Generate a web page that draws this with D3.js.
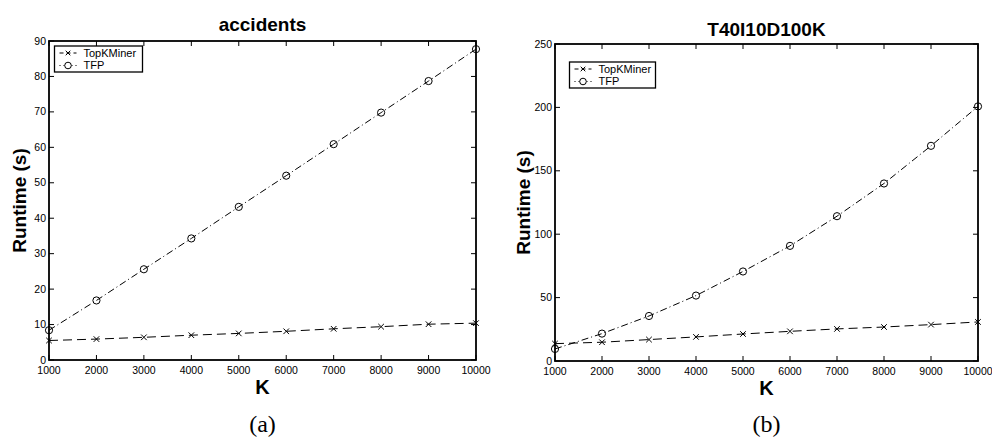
<!DOCTYPE html>
<html>
<head>
<meta charset="utf-8">
<script src="https://cdn.jsdelivr.net/npm/d3@7"></script>
<style>
  body { margin: 0; background: #fff; }
  svg { display: block; }
  text { font-family: "Liberation Sans", Arial, sans-serif; }
</style>
</head>
<body>
<div id="chart"></div>
<script>
// K values shared by both panels
const kValues = [1000, 2000, 3000, 4000, 5000, 6000, 7000, 8000, 9000, 10000];

// (a) accidents
const accTopK = [5.5, 5.9, 6.4, 7.0, 7.5, 8.1, 8.8, 9.4, 10.1, 10.4];
const accTFP = [8.4, 16.8, 25.6, 34.3, 43.2, 52.0, 60.9, 69.8, 78.7, 87.7];
const accYTicks = [0, 10, 20, 30, 40, 50, 60, 70, 80, 90];

// (b) T40I10D100K
const tTopK = [13.7, 14.8, 16.9, 19.0, 21.3, 23.4, 25.3, 26.8, 28.7, 30.8];
const tTFP = [9.5, 21.6, 35.5, 51.6, 70.6, 90.8, 114.2, 140.0, 169.7, 200.8];
const tYTicks = [0, 50, 100, 150, 200, 250];

const seriesNames = ["TopKMiner", "TFP"];

const width = 992, height = 437;
const svg = d3.select("#chart").append("svg")
  .attr("width", width)
  .attr("height", height);

function drawPanel(opt) {
  const x = d3.scaleLinear().domain([1000, 10000]).range([opt.left, opt.right]);
  const y = d3.scaleLinear().domain([0, opt.yMax]).range([opt.bottom, opt.top]);
  const g = svg.append("g");
  const tick = 5;

  // box
  g.append("rect")
    .attr("x", opt.left).attr("y", opt.top)
    .attr("width", opt.right - opt.left).attr("height", opt.bottom - opt.top)
    .attr("fill", "none").attr("stroke", "#000").attr("stroke-width", 1.8);

  // inward ticks on all four sides
  kValues.forEach(k => {
    g.append("line").attr("x1", x(k)).attr("x2", x(k))
      .attr("y1", opt.bottom).attr("y2", opt.bottom - tick)
      .attr("stroke", "#000");
    g.append("line").attr("x1", x(k)).attr("x2", x(k))
      .attr("y1", opt.top).attr("y2", opt.top + tick)
      .attr("stroke", "#000");
    g.append("text").attr("x", x(k)).attr("y", opt.bottom + 14)
      .attr("text-anchor", "middle").attr("font-size", "10.5px")
      .text(k);
  });
  opt.yTicks.forEach(v => {
    g.append("line").attr("x1", opt.left).attr("x2", opt.left + tick)
      .attr("y1", y(v)).attr("y2", y(v)).attr("stroke", "#000");
    g.append("line").attr("x1", opt.right).attr("x2", opt.right - tick)
      .attr("y1", y(v)).attr("y2", y(v)).attr("stroke", "#000");
    g.append("text").attr("x", opt.left - 3).attr("y", y(v) + 3.5)
      .attr("text-anchor", "end").attr("font-size", "10.5px")
      .text(v);
  });

  const line = d3.line().x((d, i) => x(kValues[i])).y(d => y(d));

  // TopKMiner: dashed with x markers
  g.append("path").datum(opt.topk).attr("d", line)
    .attr("fill", "none").attr("stroke", "#000").attr("stroke-width", 1)
    .attr("stroke-dasharray", "9,5");
  opt.topk.forEach((v, i) => {
    const cx = x(kValues[i]), cy = y(v), s = 2.8;
    g.append("path")
      .attr("d", `M${cx - s},${cy - s}L${cx + s},${cy + s}M${cx - s},${cy + s}L${cx + s},${cy - s}`)
      .attr("stroke", "#000").attr("stroke-width", 1);
  });

  // TFP: dash-dot with circle markers
  g.append("path").datum(opt.tfp).attr("d", line)
    .attr("fill", "none").attr("stroke", "#000").attr("stroke-width", 1)
    .attr("stroke-dasharray", "7,3,1,3");
  opt.tfp.forEach((v, i) => {
    g.append("circle").attr("cx", x(kValues[i])).attr("cy", y(v)).attr("r", 3.6)
      .attr("fill", "none").attr("stroke", "#000").attr("stroke-width", 1);
  });

  // title and axis labels
  const cx = (opt.left + opt.right) / 2;
  g.append("text").attr("x", cx).attr("y", opt.titleY)
    .attr("text-anchor", "middle").attr("font-size", "19px").attr("font-weight", "bold")
    .text(opt.title);
  g.append("text").attr("x", cx).attr("y", opt.bottom + 34)
    .attr("text-anchor", "middle").attr("font-size", "20px").attr("font-weight", "bold")
    .text("K");
  g.append("text")
    .attr("transform", `translate(${opt.yLabelX},${(opt.top + opt.bottom) / 2}) rotate(-90)`)
    .attr("text-anchor", "middle").attr("font-size", "19px").attr("font-weight", "bold")
    .text("Runtime (s)");
  g.append("text").attr("x", cx).attr("y", 432)
    .attr("text-anchor", "middle").attr("font-size", "24px")
    .style("font-family", "'Liberation Serif', 'DejaVu Serif', serif")
    .text(opt.caption);

  // legend
  const lg = g.append("g").attr("transform", `translate(${opt.legX},${opt.legY})`);
  lg.append("rect").attr("width", opt.legW).attr("height", 26)
    .attr("fill", "#fff").attr("stroke", "#000").attr("stroke-width", 1.3);
  seriesNames.forEach((name, i) => {
    const ly = 7 + i * 12.5;
    lg.append("line").attr("x1", 5).attr("x2", 22).attr("y1", ly).attr("y2", ly)
      .attr("stroke", "#000").attr("stroke-width", 1)
      .attr("stroke-dasharray", i === 0 ? "4,3" : "1,3");
    if (i === 0) {
      const s = 2.3, mx = 13.5;
      lg.append("path")
        .attr("d", `M${mx - s},${ly - s}L${mx + s},${ly + s}M${mx - s},${ly + s}L${mx + s},${ly - s}`)
        .attr("stroke", "#000");
    } else {
      lg.append("circle").attr("cx", 13.5).attr("cy", ly).attr("r", 3.3)
        .attr("fill", "#fff").attr("stroke", "#000");
    }
    lg.append("text").attr("x", 29).attr("y", ly + 3.8)
      .attr("font-size", "11px").text(name);
  });
}

drawPanel({
  left: 49, right: 476, top: 41, bottom: 360, yMax: 90,
  yTicks: accYTicks, topk: accTopK, tfp: accTFP,
  title: "accidents", titleY: 31, yLabelX: 26, caption: "(a)",
  legX: 54.5, legY: 46, legW: 88
});

drawPanel({
  left: 555, right: 978, top: 44, bottom: 361, yMax: 250,
  yTicks: tYTicks, topk: tTopK, tfp: tTFP,
  title: "T40I10D100K", titleY: 36, yLabelX: 530, caption: "(b)",
  legX: 569.5, legY: 62, legW: 86
});
</script>
</body>
</html>
